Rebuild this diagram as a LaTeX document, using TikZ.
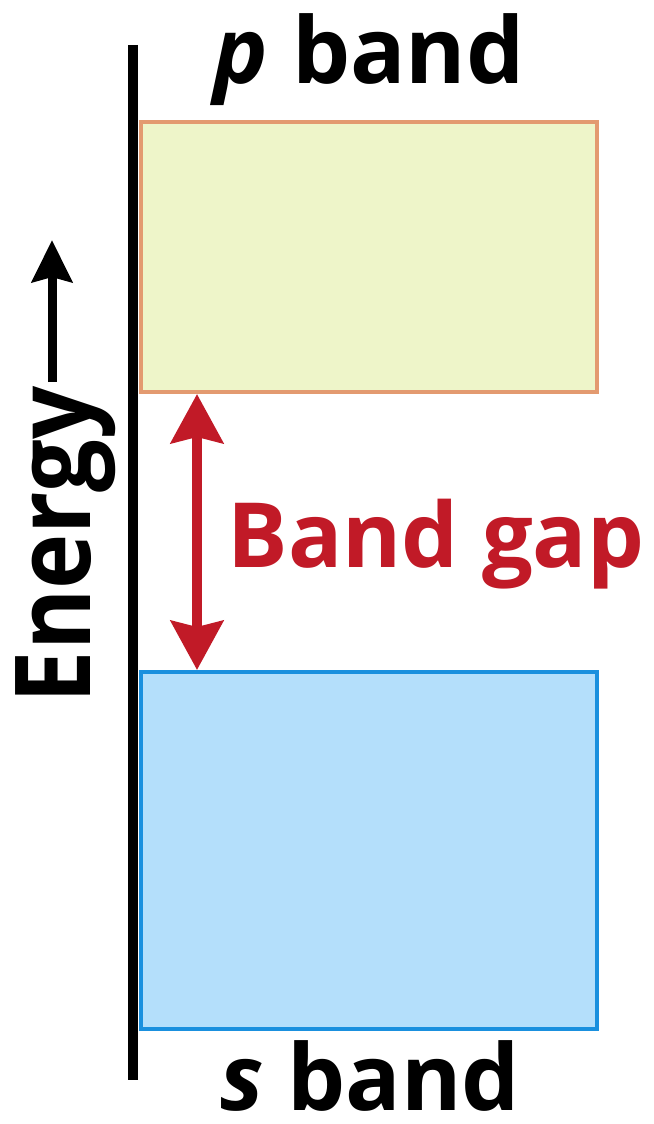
\documentclass[tikz,border=0pt]{standalone}
\usepackage{fontspec}
\setmainfont{Open Sans}
\usetikzlibrary{arrows.meta}
\definecolor{pfill}{HTML}{EEF5C9}
\definecolor{pline}{HTML}{E39A70}
\definecolor{sfill}{HTML}{B4DFFB}
\definecolor{sline}{HTML}{1A90DE}
\definecolor{gapred}{HTML}{C11A27}
\tikzset{
  bandbox/.style={draw, line width=4pt, inner sep=0pt, anchor=north west},
  bandlabel/.style={font=\fontsize{92}{96}\selectfont\bfseries, anchor=base, inner sep=0pt},
}
\begin{document}
\begin{tikzpicture}[x=1pt,y=-1pt]
\useasboundingbox (0,0) rectangle (653,1124);
% bands
\node[bandbox, fill=pfill, draw=pline, minimum width=456pt, minimum height=270pt] (pbox) at (139,120) {};
\node[bandbox, fill=sfill, draw=sline, minimum width=456pt, minimum height=357pt] (sbox) at (139,670) {};
% energy axis
\coordinate (axtop) at (133,45);
\coordinate (axbot) at (133,1080);
\draw[line width=10pt] (axtop) -- (axbot);
% labels
\node[bandlabel] (plabel) at (369,83) {\textit{p} band};
\node[bandlabel] (slabel) at (370,1110) {\textit{s} band};
% band gap arrow
\coordinate (gx) at (197,0);
\draw[gapred, line width=10pt, {Stealth[length=49pt,width=52pt,inset=6pt]}-{Stealth[length=49pt,width=52pt,inset=6pt]}]
  (pbox.south -| gx) -- (sbox.north -| gx);
\node[font=\fontsize{90}{94}\selectfont\bfseries, text=gapred, anchor=base, inner sep=0pt] (gap) at (436,567) {Band gap};
% energy label
\node[font=\fontsize{105}{108}\selectfont\bfseries, rotate=90, anchor=base, inner sep=0pt] (energy) at (90,545) {\scalebox{0.89}[1]{Energy}};
\coordinate (ebase) at (52,382);
\coordinate (etip) at (52,240);
\draw[line width=9pt, -{Stealth[length=42pt,width=40pt,inset=5pt]}] (ebase) -- (etip);
\end{tikzpicture}
\end{document}
